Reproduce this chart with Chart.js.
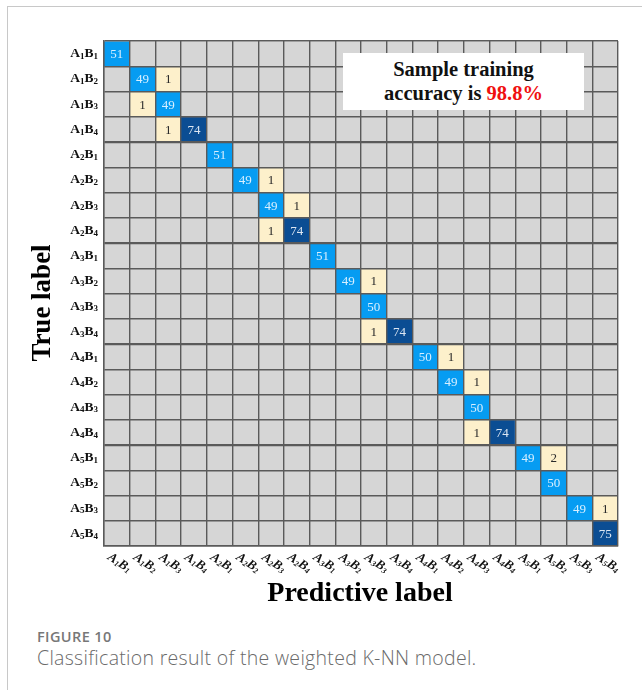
<!DOCTYPE html>
<html>
<head>
<meta charset="utf-8">
<script src="https://cdn.jsdelivr.net/npm/chart.js@4.4.0/dist/chart.umd.min.js"></script>
<style>
body{margin:0;background:#fff;}
#page{position:relative;width:642px;height:690px;overflow:hidden;background:#fff}
#frame{position:absolute;left:7px;top:6px;right:0;bottom:-2px;border-left:1px solid #c8c8c8;border-top:1px solid #c8c8c8}
#wrap{position:absolute;left:0;top:0;width:642px;height:610px}
#note{position:absolute;left:343px;top:53px;width:241px;height:57px;background:#fff;
  font:bold 20.5px "Liberation Serif",serif;color:#111;text-align:center;line-height:24px;padding-top:4px;box-sizing:border-box}
#note .red{color:#f01010}
#cap1{position:absolute;left:37px;top:627px;font:600 14.5px "Open Sans",sans-serif;color:#777;letter-spacing:0.4px}
#cap2{position:absolute;left:37px;top:644px;font:300 19.5px "Open Sans",sans-serif;color:#6a6a6a;letter-spacing:0.3px}
</style>
</head>
<body>
<div id="page">
  <div id="frame"></div>
  <div id="wrap"><canvas id="cm"></canvas></div>
  <div id="note">Sample training<br>accuracy is <span class="red">98.8%</span></div>
  <div id="cap1">FIGURE 10</div>
  <div id="cap2">Classification result of the weighted K-NN model.</div>
</div>
<script>
// class labels (true rows / predicted columns)
const trueLabels = ['A1B1','A1B2','A1B3','A1B4','A2B1','A2B2','A2B3','A2B4','A3B1','A3B2',
                    'A3B3','A3B4','A4B1','A4B2','A4B3','A4B4','A5B1','A5B2','A5B3','A5B4']
const predLabels = ['A1B1','A1B2','A1B3','A1B4','A2B1','A2B2','A2B3','A2B4','A3B1','A3B2',
                    'A3B3','A3B4','A4B1','A4B2','A4B3','A4B4','A5B1','A5B2','A5B3','A5B4']

// confusion matrix, one row per true label
const matrix = [
  [51,0,0,0,0,0,0,0,0,0,0,0,0,0,0,0,0,0,0,0],
  [0,49,1,0,0,0,0,0,0,0,0,0,0,0,0,0,0,0,0,0],
  [0,1,49,0,0,0,0,0,0,0,0,0,0,0,0,0,0,0,0,0],
  [0,0,1,74,0,0,0,0,0,0,0,0,0,0,0,0,0,0,0,0],
  [0,0,0,0,51,0,0,0,0,0,0,0,0,0,0,0,0,0,0,0],
  [0,0,0,0,0,49,1,0,0,0,0,0,0,0,0,0,0,0,0,0],
  [0,0,0,0,0,0,49,1,0,0,0,0,0,0,0,0,0,0,0,0],
  [0,0,0,0,0,0,1,74,0,0,0,0,0,0,0,0,0,0,0,0],
  [0,0,0,0,0,0,0,0,51,0,0,0,0,0,0,0,0,0,0,0],
  [0,0,0,0,0,0,0,0,0,49,1,0,0,0,0,0,0,0,0,0],
  [0,0,0,0,0,0,0,0,0,0,50,0,0,0,0,0,0,0,0,0],
  [0,0,0,0,0,0,0,0,0,0,1,74,0,0,0,0,0,0,0,0],
  [0,0,0,0,0,0,0,0,0,0,0,0,50,1,0,0,0,0,0,0],
  [0,0,0,0,0,0,0,0,0,0,0,0,0,49,1,0,0,0,0,0],
  [0,0,0,0,0,0,0,0,0,0,0,0,0,0,50,0,0,0,0,0],
  [0,0,0,0,0,0,0,0,0,0,0,0,0,0,1,74,0,0,0,0],
  [0,0,0,0,0,0,0,0,0,0,0,0,0,0,0,0,49,2,0,0],
  [0,0,0,0,0,0,0,0,0,0,0,0,0,0,0,0,0,50,0,0],
  [0,0,0,0,0,0,0,0,0,0,0,0,0,0,0,0,0,0,49,1],
  [0,0,0,0,0,0,0,0,0,0,0,0,0,0,0,0,0,0,0,75]
]

function cellColor(v){
  if(v === 0) return '#d6d6d6'
  if(v <= 5) return '#fdf0cb'
  if(v < 60) return '#069cf2'
  return '#0b4d93'
}
function textColor(v){
  if(v <= 5) return '#2a2a2a'
  if(v < 60) return '#d8efff'
  return '#dce6f2'
}

// draws "A1B1" with subscript digits, returns width
function drawSubLabel(ctx, text, x, y, size, italic, measureOnly){
  const st = italic ? 'italic bold ' : 'bold '
  const big = st + size + 'px "Liberation Serif", serif'
  const small = st + Math.round(size*0.65) + 'px "Liberation Serif", serif'
  let cx = x
  for(const ch of text){
    const dig = /\d/.test(ch)
    ctx.font = dig ? small : big
    if(!measureOnly) ctx.fillText(ch, cx, y + (dig ? size*0.22 : 0))
    cx += ctx.measureText(ch).width
  }
  return cx - x
}

const labelPlugin = {
  id: 'cmLabels',
  afterDraw(chart){
    const ctx = chart.ctx
    const xs = chart.scales.x, ys = chart.scales.y
    ctx.save()
    // cell values
    ctx.textAlign = 'center'
    ctx.textBaseline = 'middle'
    ctx.font = '13px "Liberation Serif", serif'
    matrix.forEach((row, i) => {
      row.forEach((v, j) => {
        if(!v) return
        ctx.fillStyle = textColor(v)
        ctx.fillText(String(v), xs.getPixelForValue(j), ys.getPixelForValue(i + 0.5) + 1)
      })
    })
    // y labels
    ctx.textAlign = 'left'
    ctx.textBaseline = 'middle'
    ctx.fillStyle = '#111'
    trueLabels.forEach((lab, i) => {
      const w = drawSubLabel(ctx, lab, 0, 0, 13.5, false, true)
      drawSubLabel(ctx, lab, chart.chartArea.left - 6 - w, ys.getPixelForValue(i + 0.5), 13.5, false)
    })
    // x labels, slanted downward
    predLabels.forEach((lab, j) => {
      ctx.save()
      ctx.translate(xs.getPixelForValue(j) - 8, chart.chartArea.bottom + 10)
      ctx.rotate(0.58)
      drawSubLabel(ctx, lab, 0, 0, 13, true)
      ctx.restore()
    })
    // axis titles
    ctx.fillStyle = '#000'
    ctx.textAlign = 'center'
    ctx.font = 'bold 27px "Liberation Serif", serif'
    ctx.save()
    ctx.translate(43, 303)
    ctx.rotate(-Math.PI/2)
    ctx.fillText('True label', 0, 0)
    ctx.restore()
    ctx.font = 'bold 28px "Liberation Serif", serif'
    ctx.fillText('Predictive label', 360, 594)
    ctx.restore()
  }
}

const datasets = matrix.map((row, i) => ({
  label: trueLabels[i],
  data: row.map(() => [i, i + 1]),
  backgroundColor: row.map(cellColor),
  borderWidth: 0,
  barPercentage: 1,
  categoryPercentage: 1,
  grouped: false
}))

new Chart(document.getElementById('cm'), {
  type: 'bar',
  data: { labels: predLabels, datasets: datasets },
  options: {
    responsive: true,
    maintainAspectRatio: false,
    animation: false,
    layout: { padding: { left: 104, top: 41, right: 24, bottom: 64 } },
    plugins: { legend: { display: false }, tooltip: { enabled: false } },
    scales: {
      x: {
        offset: true,
        ticks: { display: false },
        grid: { z: 1, color: '#5a5a5a', lineWidth: 1.4, offset: true, drawTicks: false },
        border: { z: 1, color: '#5a5a5a', width: 1.4 },
        afterFit(scale){ scale.height = 0 }
      },
      y: {
        reverse: true,
        min: 0, max: 20,
        ticks: { display: false, stepSize: 1, maxTicksLimit: 25 },
        grid: {
          z: 1,
          color: '#5a5a5a',
          drawTicks: false,
          lineWidth: c => (c.tick && c.tick.value % 4 === 0 && c.tick.value > 0 && c.tick.value < 20) ? 2.2 : 1.4
        },
        border: { z: 1, color: '#5a5a5a', width: 1.4 },
        afterFit(scale){ scale.width = 0 }
      }
    }
  },
  plugins: [labelPlugin]
})
</script>
</body>
</html>
